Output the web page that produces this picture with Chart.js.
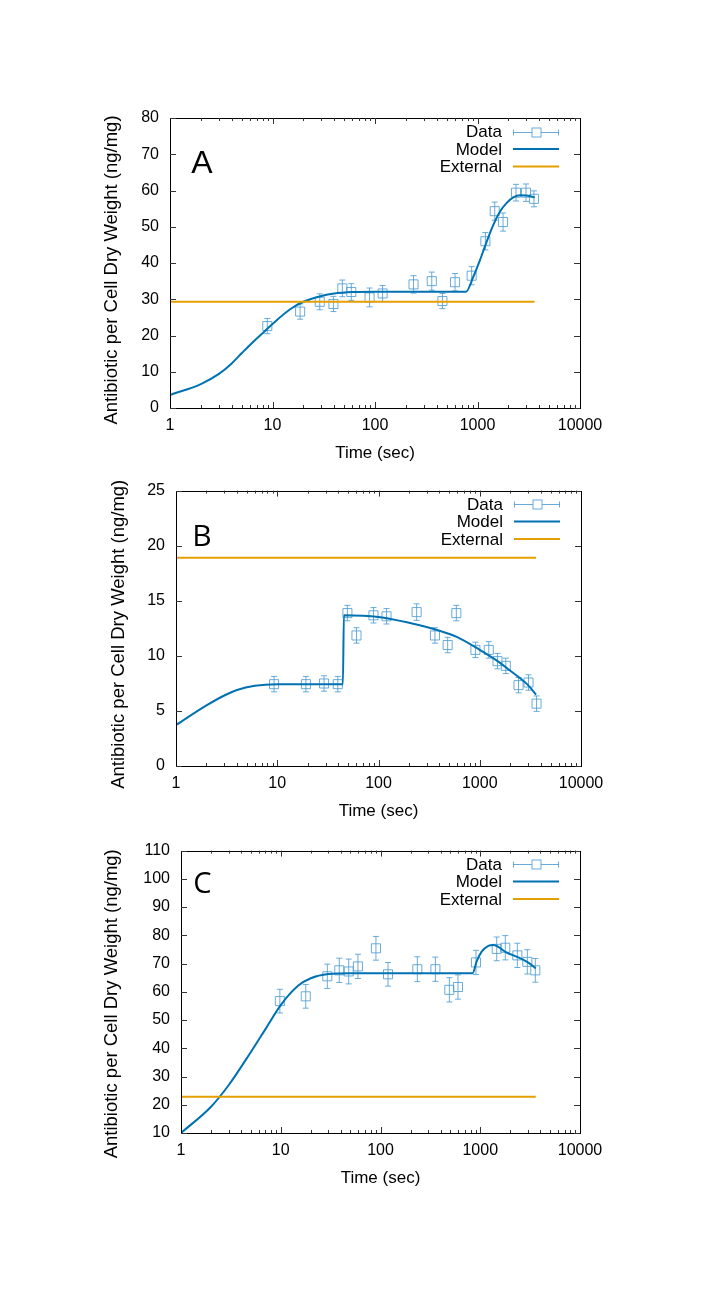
<!DOCTYPE html>
<html><head><meta charset="utf-8">
<script src="https://cdn.jsdelivr.net/npm/chart.js@4"></script>
<style>
html,body{margin:0;padding:0;background:#fff;}
#wrap{position:relative;width:708px;height:1298px;background:#fff;}
canvas{position:absolute;left:0;}
</style></head><body><div id="wrap">
<canvas id="cA" width="708" height="470" style="top:0px"></canvas>
<canvas id="cB" width="708" height="360" style="top:470px"></canvas>
<canvas id="cC" width="708" height="468" style="top:830px"></canvas>
</div>
<script>
// ---------- data ----------
const xTickValues = [1, 10, 100, 1000, 10000];
const legendLabels = ['Data', 'Model', 'External'];
const yTitle = 'Antibiotic per Cell Dry Weight (ng/mg)';
const xTitle = 'Time (sec)';
const externalTimes = [1, 3600];

// Panel A
const timesA  = [8.9, 18.6, 28.9, 39.3, 48, 58.7, 88.5, 118.6, 237.6, 358, 455, 604, 877, 1194, 1472, 1775, 2374, 2973, 3555];
const valuesA = [22.6, 26.6, 29.3, 28.7, 33.0, 32.0, 30.5, 31.6, 34.1, 35.0, 29.5, 34.7, 36.5, 46.0, 54.3, 51.3, 59.4, 59.4, 57.7];
const errorsA = [2.1, 2.1, 2.2, 2.1, 2.3, 2.3, 2.6, 2.2, 2.4, 2.5, 2.1, 2.4, 2.5, 2.4, 2.5, 2.5, 2.3, 2.4, 2.2];
const modelTimesA  = [1, 2, 3, 4, 5, 6.5, 8, 10, 15, 20, 30, 40, 60, 100, 773, 910, 1057, 1230, 1427, 1660, 1927, 2237, 2600, 3020, 3614];
const modelValuesA = [3.6, 6.6, 9.4, 12.3, 15.1, 18.3, 20.6, 23.2, 27.3, 29.3, 30.9, 31.6, 32.0, 32.1, 32.1, 36.2, 40.8, 45.9, 50.5, 54.2, 56.6, 58.1, 58.7, 58.6, 58.1];
const externalA = 29.3;

// Panel B
const timesB  = [9.3, 19.2, 29, 39.6, 49.3, 60.6, 89.2, 120, 238, 361, 482, 587, 906, 1228, 1497, 1808, 2415, 3032, 3641];
const valuesB = [7.43, 7.43, 7.49, 7.43, 13.88, 11.85, 13.68, 13.59, 13.97, 11.85, 10.98, 13.88, 10.54, 10.54, 9.52, 9.09, 7.34, 7.58, 5.66];
const errorsB = [0.7, 0.7, 0.7, 0.7, 0.7, 0.7, 0.7, 0.7, 0.75, 0.7, 0.7, 0.7, 0.7, 0.75, 0.7, 0.7, 0.7, 0.7, 0.7];
const modelTimesB  = [1, 2, 3, 4, 6, 10, 44.5, 45.5, 100, 200, 400, 600, 1000, 1500, 2000, 3000, 3600];
const modelValuesB = [3.72, 5.5, 6.4, 6.9, 7.29, 7.43, 7.43, 13.68, 13.53, 13.0, 12.28, 11.7, 10.54, 9.52, 8.65, 7.34, 6.47];
const externalB = 18.9;

// Panel C
const timesC  = [9.8, 17.8, 29.3, 38.6, 48, 59.4, 90, 119, 234, 355, 490, 598, 906, 1462, 1783, 2354, 2965, 3565];
const valuesC = [56.7, 58.4, 65.5, 67.6, 67.2, 69.0, 75.4, 66.2, 68.0, 68.0, 60.7, 61.7, 70.4, 75.2, 75.6, 72.9, 70.6, 67.6];
const errorsC = [4.2, 4.2, 4.3, 4.3, 4.4, 4.3, 4.2, 4.2, 4.4, 4.3, 4.3, 4.3, 4.3, 4.2, 4.3, 4.3, 4.3, 4.2];
const modelTimesC  = [1, 2, 3, 5, 7, 10, 15, 20, 30, 50, 840, 921, 1033, 1205, 1352, 1841, 2400, 3000, 3600];
const modelValuesC = [10, 19.3, 26.9, 38.6, 46.7, 55.3, 62.2, 64.8, 66.3, 66.6, 66.6, 70.8, 74.2, 76.3, 76.6, 73.9, 72.2, 70.4, 68.3];
const externalC = 22.8;

// ---------- styles ----------
const FONT = "'Liberation Sans', Arial, sans-serif";
const DATA_COLOR = 'rgba(80,158,210,0.85)';
const MODEL_COLOR = '#0072B2';
const EXT_COLOR = '#E69F00';

const pts = (xs, ys) => xs.map((x, i) => ({x, y: ys[i]}));

const panelPlugin = {
  id: 'panelPlugin',
  beforeDatasetsDraw(chart, args, opts) {
    const ctx = chart.ctx;
    const ds = chart.data.datasets[opts.dataIndex];
    const meta = chart.getDatasetMeta(opts.dataIndex);
    const ys = chart.scales.y;
    ctx.save();
    ctx.strokeStyle = DATA_COLOR;
    ctx.lineWidth = 1;
    meta.data.forEach((el, i) => {
      const v = ds.data[i].y, e = opts.errors[i];
      const y1 = ys.getPixelForValue(v + e), y2 = ys.getPixelForValue(v - e);
      ctx.beginPath();
      ctx.moveTo(el.x, y1); ctx.lineTo(el.x, y2);
      ctx.moveTo(el.x - 3, y1); ctx.lineTo(el.x + 3, y1);
      ctx.moveTo(el.x - 3, y2); ctx.lineTo(el.x + 3, y2);
      ctx.stroke();
    });
    ctx.restore();
  },
  afterDraw(chart, args, opts) {
    const ctx = chart.ctx;
    const a = chart.chartArea;
    const xs = chart.scales.x, ys = chart.scales.y;
    ctx.save();
    // frame
    ctx.strokeStyle = '#000';
    ctx.lineWidth = 1;
    ctx.strokeRect(Math.round(a.left) + 0.5, Math.round(a.top) + 0.5, Math.round(a.right - a.left), Math.round(a.bottom - a.top));
    // ticks inside
    ctx.strokeStyle = '#333';
    ctx.beginPath();
    for (let d = 0; d < 4; d++) {
      for (let k = 1; k <= 9; k++) {
        if (k === 1 && d === 0) continue;
        const v = k * Math.pow(10, d);
        const px = Math.round(xs.getPixelForValue(v)) + 0.5;
        const len = k === 1 ? 6 : 3;
        ctx.moveTo(px, a.bottom); ctx.lineTo(px, a.bottom - len);
        ctx.moveTo(px, a.top); ctx.lineTo(px, a.top + len);
      }
    }
    ys.ticks.forEach(t => {
      const py = Math.round(ys.getPixelForValue(t.value)) + 0.5;
      ctx.moveTo(a.left, py); ctx.lineTo(a.left + 6, py);
      ctx.moveTo(a.right, py); ctx.lineTo(a.right - 6, py);
    });
    ctx.stroke();

    // y-axis title
    ctx.fillStyle = '#000';
    ctx.font = '18.5px ' + FONT;
    ctx.textAlign = 'center';
    ctx.textBaseline = 'middle';
    ctx.save();
    ctx.translate(opts.yTitleX, (a.top + a.bottom) / 2 + opts.yTitleDy);
    ctx.rotate(-Math.PI / 2);
    ctx.fillText(yTitle, 0, 0);
    ctx.restore();

    // legend
    const tx = a.right - 78, l1 = a.right - 67, l2 = a.right - 21;
    const rows = [a.top + 13.5, a.top + 31, a.top + 48.5];
    ctx.font = '17px ' + FONT;
    ctx.textAlign = 'right';
    legendLabels.forEach((t, i) => ctx.fillText(t, tx, rows[i] + 1));
    ctx.strokeStyle = DATA_COLOR; ctx.lineWidth = 1;
    ctx.beginPath();
    const r0 = Math.round(rows[0]) + 0.5;
    ctx.moveTo(l1, r0); ctx.lineTo(l2, r0);
    ctx.moveTo(l1 + 0.5, r0 - 3); ctx.lineTo(l1 + 0.5, r0 + 3);
    ctx.moveTo(l2 - 0.5, r0 - 3); ctx.lineTo(l2 - 0.5, r0 + 3);
    ctx.stroke();
    const cx = Math.round((l1 + l2) / 2) + 0.5;
    ctx.fillStyle = '#fff';
    ctx.fillRect(cx - 4.5, r0 - 4.5, 9, 9);
    ctx.strokeRect(cx - 4.5, r0 - 4.5, 9, 9);
    ctx.lineWidth = 2;
    ctx.strokeStyle = MODEL_COLOR;
    ctx.beginPath(); ctx.moveTo(l1, rows[1]); ctx.lineTo(l2, rows[1]); ctx.stroke();
    ctx.strokeStyle = EXT_COLOR;
    ctx.beginPath(); ctx.moveTo(l1, rows[2]); ctx.lineTo(l2, rows[2]); ctx.stroke();

    // panel letter
    ctx.fillStyle = '#000';
    ctx.font = opts.letterFont;
    ctx.textAlign = 'center';
    ctx.textBaseline = 'middle';
    ctx.fillText(opts.letter, a.left + opts.letterDx, a.top + opts.letterDy);
    ctx.restore();
  }
};

function makePanel(id, p) {
  const datasets = [
    {
      label: 'Data', data: pts(p.times, p.values), showLine: false,
      pointStyle: 'rect', pointRadius: 6.4, pointBorderWidth: 1,
      pointBorderColor: DATA_COLOR, pointBackgroundColor: 'rgba(0,0,0,0)', borderColor: DATA_COLOR,
      order: 2
    },
    {
      label: 'Model', data: pts(p.modelTimes, p.modelValues), showLine: true,
      borderColor: MODEL_COLOR, borderWidth: 2, pointRadius: 0,
      cubicInterpolationMode: 'monotone', order: 1
    },
    {
      label: 'External', data: pts(externalTimes, externalTimes.map(() => p.external)), showLine: true,
      borderColor: EXT_COLOR, borderWidth: 2, pointRadius: 0, order: 0
    }
  ];
  return new Chart(document.getElementById(id), {
    type: 'scatter',
    data: { datasets },
    options: {
      responsive: false, animation: false, devicePixelRatio: 1,
      layout: { padding: p.padding },
      plugins: {
        legend: { display: false }, tooltip: { enabled: false },
        panelPlugin: { dataIndex: 0, errors: p.errors, letter: p.letter, letterFont: p.letterFont, letterDx: p.letterDx, letterDy: p.letterDy, yTitleX: p.yTitleX, yTitleDy: p.yTitleDy }
      },
      scales: {
        x: {
          type: 'logarithmic', min: 1, max: 10000,
          grid: { display: false, drawTicks: false }, border: { display: false },
          afterBuildTicks: s => { s.ticks = xTickValues.map(v => ({ value: v })); },
          afterFit: s => { s.height = 62; },
          ticks: { autoSkip: false, maxRotation: 0, padding: 8, color: '#000', font: { family: FONT, size: 16 }, callback: v => String(v) },
          title: { display: true, text: xTitle, color: '#000', font: { family: FONT, size: 17 }, padding: { top: 0, bottom: 6.5 } }
        },
        y: {
          type: 'linear', min: p.yMin, max: p.yMax,
          grid: { display: false, drawTicks: false }, border: { display: false },
          afterFit: s => { s.width = p.yWidth; },
          ticks: { stepSize: p.yStep, padding: 11, color: '#000', font: { family: FONT, size: 16 } },
          title: { display: false }
        }
      }
    },
    plugins: [panelPlugin]
  });
}

makePanel('cA', {
  times: timesA, values: valuesA, errors: errorsA, modelTimes: modelTimesA, modelValues: modelValuesA, external: externalA,
  yMin: 0, yMax: 80, yStep: 10, yWidth: 67.6,
  padding: { left: 102.4, right: 128, top: 118, bottom: 0 },
  yTitleX: 112, yTitleDy: 7,
  letter: 'A', letterFont: '32px ' + FONT, letterDx: 32, letterDy: 46
});
makePanel('cB', {
  times: timesB, values: valuesB, errors: errorsB, modelTimes: modelTimesB, modelValues: modelValuesB, external: externalB,
  yMin: 0, yMax: 25, yStep: 5, yWidth: 66.6,
  padding: { left: 109.4, right: 127, top: 9, bottom: 2 },
  yTitleX: 119, yTitleDy: 6,
  letter: 'B', letterFont: "30px 'Open Sans', sans-serif", letterDx: 26, letterDy: 47
});
makePanel('cC', {
  times: timesC, values: valuesC, errors: errorsC, modelTimes: modelTimesC, modelValues: modelValuesC, external: externalC,
  yMin: 10, yMax: 110, yStep: 10, yWidth: 78.6,
  padding: { left: 102.4, right: 128, top: 13, bottom: 103 },
  yTitleX: 112, yTitleDy: 12,
  letter: 'C', letterFont: "29px 'Open Sans', sans-serif", letterDx: 21.5, letterDy: 34
});
</script>
</body></html>
